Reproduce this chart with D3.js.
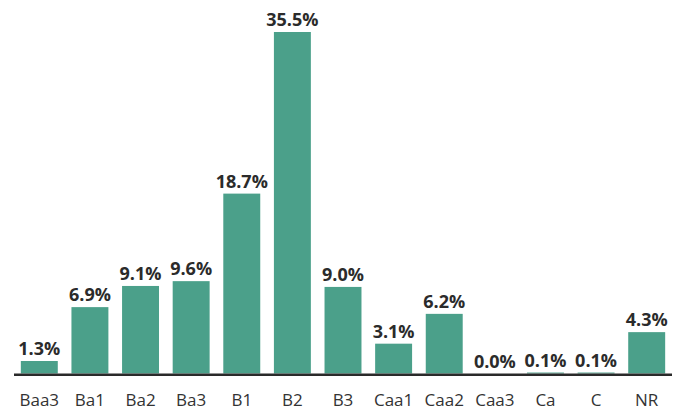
<!DOCTYPE html>
<html>
<head>
<meta charset="utf-8">
<script src="https://cdn.jsdelivr.net/npm/d3@7/dist/d3.min.js"></script>
<style>
  body { margin: 0; background: #fff; }
  text { font-family: "Open Sans", sans-serif; }
</style>
</head>
<body>
<div id="chart"></div>
<script>
var ratings = ['Baa3', 'Ba1', 'Ba2', 'Ba3', 'B1', 'B2', 'B3', 'Caa1', 'Caa2', 'Caa3', 'Ca', 'C', 'NR'];
var shares = [1.3, 6.9, 9.1, 9.6, 18.7, 35.5, 9.0, 3.1, 6.2, 0.0, 0.1, 0.1, 4.3];

var width = 681, height = 412;
var baseline = 373.5;

var data = ratings.map(function(r, i) { return { name: r, value: shares[i] }; });

var svg = d3.select('#chart')
  .append('svg')
  .attr('width', width)
  .attr('height', height);

var x = d3.scaleBand()
  .domain(ratings)
  .range([14, 672])
  .paddingInner(0.27)
  .paddingOuter(0.135);

var y = d3.scaleLinear()
  .domain([0, 35.5])
  .range([baseline, 32]);

// bars
svg.selectAll('.bar')
  .data(data)
  .enter()
  .append('rect')
  .attr('class', 'bar')
  .attr('x', function(d) { return x(d.name); })
  .attr('y', function(d) { return y(d.value); })
  .attr('width', x.bandwidth())
  .attr('height', function(d) { return baseline - y(d.value); })
  .attr('fill', '#4ba08a');

// value labels
svg.selectAll('.val')
  .data(data)
  .enter()
  .append('text')
  .attr('class', 'val')
  .attr('x', function(d) { return x(d.name) + x.bandwidth() / 2; })
  .attr('y', function(d) { return y(d.value) - 6; })
  .attr('text-anchor', 'middle')
  .style('font-size', '18px')
  .style('font-weight', 'bold')
  .style('fill', '#2b2b2b')
  .text(function(d) { return d.value.toFixed(1) + '%'; });

// baseline axis
svg.append('line')
  .attr('x1', 14)
  .attr('x2', 672)
  .attr('y1', baseline + 1.2)
  .attr('y2', baseline + 1.2)
  .attr('stroke', '#2a2a2a')
  .attr('stroke-width', 2.5);

// category labels
svg.selectAll('.cat')
  .data(data)
  .enter()
  .append('text')
  .attr('class', 'cat')
  .attr('x', function(d) { return x(d.name) + x.bandwidth() / 2; })
  .attr('y', 406)
  .attr('text-anchor', 'middle')
  .style('font-size', '17px')
  .style('fill', '#333')
  .text(function(d) { return d.name; });
</script>
</body>
</html>
